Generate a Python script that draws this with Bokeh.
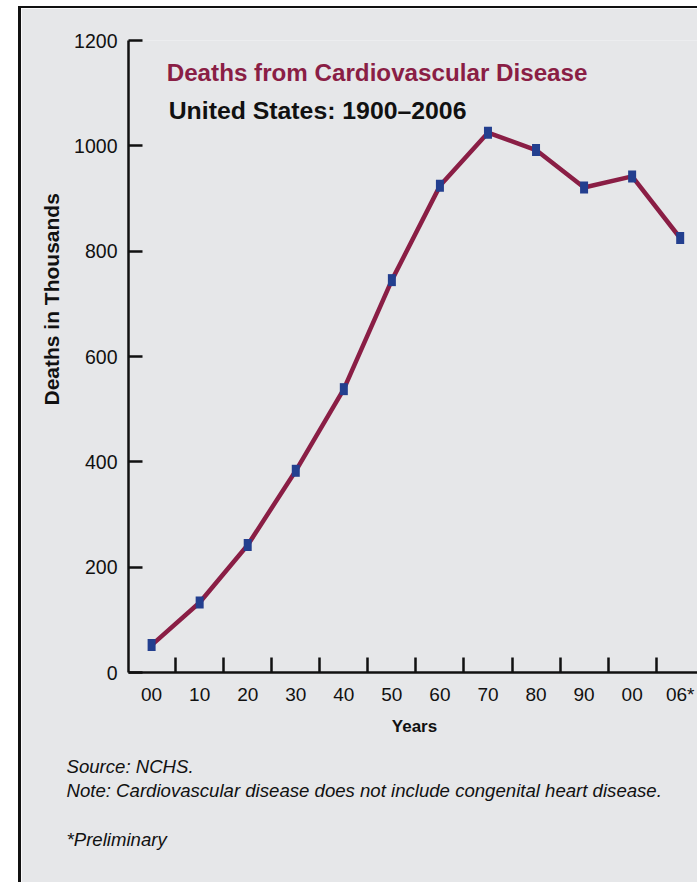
from bokeh.plotting import figure
from bokeh.models import Range1d, FixedTicker, Label, Title, ColumnDataSource
from bokeh.embed import file_html
from bokeh.resources import INLINE

# ---- data ----
year_labels = ["00", "10", "20", "30", "40", "50", "60", "70", "80", "90", "00", "06*"]
deaths = [52, 133, 242, 383, 538, 745, 924, 1025, 992, 921, 942, 825]
y_ticks = [0, 200, 400, 600, 800, 1000, 1200]

title_text = "Deaths from Cardiovascular Disease"
subtitle_text = "United States: 1900\u20132006"
y_label_text = "Deaths in Thousands"
x_label_text = "Years"
note_lines = [
    "Source: NCHS.",
    "Note: Cardiovascular disease does not include congenital heart disease.",
    "",
    "*Preliminary",
]

# ---- style ----
GRAY = "#e6e7e9"
MAROON = "#8a1e45"
BLUE = "#233f8f"
INK = "#111111"
FONT = "Liberation Sans"

# figure content starts at page (21, 8) because of the css margin + border
W, H = 676, 874
ML, MT, MB, MR = 107, 32, 212, 0
FW = W - ML - MR
FH = H - MT - MB
XS = -0.481
XE = XS + FW / 47.8
YS, YE = 0, 1200
FRAME_LEFT_PAGE = 128
FRAME_BOTTOM_PAGE = 670


def dx(page_x):
    return XS + (page_x - FRAME_LEFT_PAGE) / FW * (XE - XS)


def dy(page_y):
    return YS + (FRAME_BOTTOM_PAGE - page_y) / FH * (YE - YS)


idx = list(range(len(year_labels)))
src = ColumnDataSource(dict(x=idx, y=deaths, lab=year_labels))

p = figure(width=W, height=H, output_backend="svg", toolbar_location=None,
           x_range=Range1d(XS, XE), y_range=Range1d(YS, YE),
           min_border_left=ML, min_border_top=MT, min_border_bottom=MB, min_border_right=MR,
           styles={"box-sizing": "content-box", "margin-left": "18px", "margin-top": "6px",
                   "border-left": "3px solid #111111", "border-top": "2px solid #111111"})
p.background_fill_color = GRAY
p.border_fill_color = GRAY
p.outline_line_color = None
p.xgrid.visible = False
p.ygrid.visible = False

# x axis: labels at categories, tick marks between them
xa = p.xaxis[0]
xa.ticker = FixedTicker(ticks=idx, minor_ticks=[i + 0.5 for i in idx])
xa.major_label_overrides = {i: lab for i, lab in zip(idx, year_labels)}
xa.major_tick_line_color = None
xa.major_tick_in = 0
xa.major_tick_out = 0
xa.minor_tick_in = 15
xa.minor_tick_out = 0
xa.minor_tick_line_color = INK
xa.minor_tick_line_width = 2.5
xa.axis_line_color = INK
xa.axis_line_width = 2.5
xa.major_label_text_font = FONT
xa.major_label_text_font_size = "19px"
xa.major_label_text_color = INK
xa.major_label_standoff = 11
xa.axis_label = x_label_text
xa.axis_label_text_font = FONT
xa.axis_label_text_font_style = "bold"
xa.axis_label_text_font_size = "17px"
xa.axis_label_text_color = INK
xa.axis_label_standoff = 9

ya = p.yaxis[0]
ya.ticker = FixedTicker(ticks=y_ticks, minor_ticks=[])
ya.major_tick_in = 14
ya.major_tick_out = 0
ya.major_tick_line_width = 2.5
ya.major_tick_line_color = INK
ya.minor_tick_line_color = None
ya.axis_line_color = INK
ya.axis_line_width = 2.5
ya.major_label_text_font = FONT
ya.major_label_text_font_size = "19.5px"
ya.major_label_text_color = INK
ya.major_label_standoff = 11

# series
p.line("x", "y", source=src, line_color=MAROON, line_width=4.5, line_join="round")
p.rect("x", "y", source=src, width=8, height=12, width_units="screen", height_units="screen",
       fill_color=BLUE, line_color=None)

# titles inside the plot area
p.add_layout(Label(x=dx(166), y=dy(71.7), text=title_text, text_font=FONT, text_font_style="bold",
                   text_font_size="24.2px", text_color=MAROON, text_align="left",
                   text_baseline="alphabetic"))
p.add_layout(Label(x=dx(168), y=dy(110), text=subtitle_text, text_font=FONT, text_font_style="bold",
                   text_font_size="24.8px", text_color=INK, text_align="left",
                   text_baseline="alphabetic"))

# y axis title (placed off-centre like the reference)
p.add_layout(Title(text=y_label_text, align="left", offset=267, standoff=17,
                   text_font=FONT, text_font_style="bold", text_font_size="21px",
                   text_color=INK), "left")

# notes block below the axis
p.add_layout(Title(text="\n".join(note_lines), align="left", offset=-62, standoff=30,
                   text_font=FONT, text_font_style="italic", text_font_size="18.6px",
                   text_line_height=1.17, text_color=INK), "below")

open("out.html", "w").write(file_html(p, INLINE))
